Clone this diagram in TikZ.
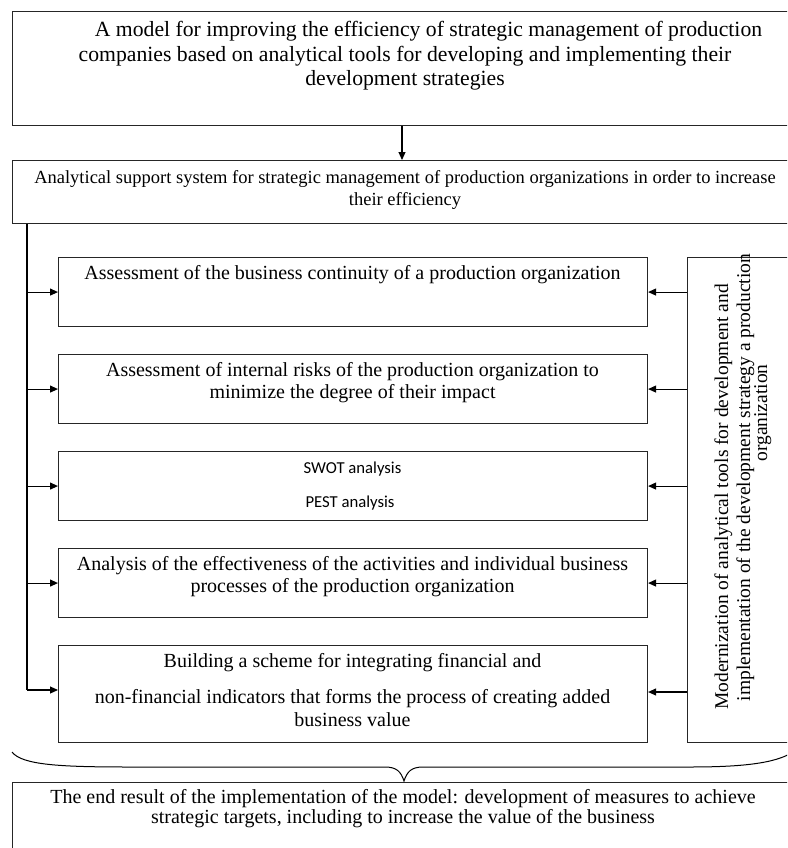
\documentclass[tikz,border=0pt]{standalone}
\usepackage{fontspec}
\setmainfont{Liberation Serif}
\newfontfamily\calib{Carlito}
\usetikzlibrary{arrows.meta}
\begin{document}
\begin{tikzpicture}[x=1pt,y=-1pt,
  box/.style={draw=black!85, line width=1.1pt, inner sep=0pt, anchor=north west},
  wire/.style={line width=1.1pt, draw=black},
  conn/.style={wire, -{Triangle[length=8pt,width=7pt]}},
  txt/.style={font=\fontsize{20}{21.5}\selectfont, align=center, anchor=base, inner sep=0pt},
  vtxt/.style={font=\fontsize{19.5}{22}\selectfont, anchor=base, inner sep=0pt, rotate=90},
]
\useasboundingbox (0,0) rectangle (787,848);
\fill[white] (0,0) rectangle (787,848);
\clip (0,0) rectangle (787,848);

% top box
\node[box, minimum width=786pt, minimum height=114pt] (top) at (12,11) {};
\node[txt, font=\fontsize{21.7}{24.6}\selectfont] (toptxt) at (405,86)
  {\hspace*{47pt}A model for improving the efficiency of strategic management of production\\
   companies based on analytical tools for developing and implementing their\\
   development strategies};

% system box
\node[box, minimum width=786pt, minimum height=63pt] (sys) at (12,160) {};
\node[txt, font=\fontsize{18.5}{21.5}\selectfont] (systxt) at (405,205)
  {Analytical support system for strategic management of production organizations in order to increase\\
   their efficiency};

\coordinate (ax) at (402,0);
\draw[conn] (top.south -| ax) -- (sys.north -| ax);

% inner boxes
\node[box, minimum width=589pt, minimum height=69pt] (b1) at (58,257) {};
\node[box, minimum width=589pt, minimum height=69pt] (b2) at (58,354) {};
\node[box, minimum width=589pt, minimum height=69pt] (b3) at (58,451) {};
\node[box, minimum width=589pt, minimum height=69pt] (b4) at (58,548) {};
\node[box, minimum width=589pt, minimum height=97pt] (b5) at (58,645) {};

\node[txt] (t1) at (352.5,279) {Assessment of the business continuity of a production organization};
\node[txt] (t2) at (352.5,398) {Assessment of internal risks of the production organization to\\
  minimize the degree of their impact};
\node[txt, font=\calib\fontsize{16.7}{20}\selectfont] (t3a) at (352.5,473) {SWOT analysis};
\node[txt, font=\calib\fontsize{16.7}{20}\selectfont] (t3b) at (350,507) {PEST analysis};
\node[txt] (t4) at (352.5,592) {Analysis of the effectiveness of the activities and individual business\\
  processes of the production organization};
\node[txt, font=\fontsize{20}{23}\selectfont] (t5) at (352.5,726) {Building a scheme for integrating financial and\\[13pt]
  non-financial indicators that forms the process of creating added\\
  business value};

% right box
\node[box, minimum width=120pt, minimum height=485pt] (mod) at (687,257) {};
\node[vtxt] (m1) at (728,497) {Modernization of analytical tools for development and};
\node[vtxt] (m2) at (750,477.5) {implementation of the development strategy a production};
\node[vtxt] (m3) at (767,413) {organization};

% left spine
\coordinate (lx) at (27,0);
\coordinate (l5) at (0,690);
\draw[wire] (sys.south -| lx) -- (lx |- l5);
\draw[conn] (lx |- b1.west) -- (b1.west);
\draw[conn] (lx |- b2.west) -- (b2.west);
\draw[conn] (lx |- b3.west) -- (b3.west);
\draw[conn] (lx |- b4.west) -- (b4.west);
\draw[conn] (lx |- l5) -- (b5.west |- l5);

% right arrows
\coordinate (r5) at (0,692);
\draw[conn] (mod.west |- b1.east) -- (b1.east);
\draw[conn] (mod.west |- b2.east) -- (b2.east);
\draw[conn] (mod.west |- b3.east) -- (b3.east);
\draw[conn] (mod.west |- b4.east) -- (b4.east);
\draw[conn] (mod.west |- r5) -- (b5.east |- r5);

% bottom box
\node[box, minimum width=786pt, minimum height=100pt] (res) at (12,782) {};
\node[txt, font=\fontsize{20}{19.5}\selectfont] (restxt) at (403,823)
  {The end result of the implementation of the model: development of measures to achieve\\
   strategic targets, including to increase the value of the business};

% brace
\coordinate (bl) at (12,752);
\coordinate (bt) at (404,781);
\coordinate (br) at (796,750);
\draw[wire, line width=1pt] (bl) .. controls (22,765) and (60,767) .. (130,767)
  -- (385,767) .. controls (397,767) and (401,772) .. (bt)
  .. controls (407,772) and (411,767) .. (423,767)
  -- (690,767) .. controls (750,767) and (780,762) .. (br);
\end{tikzpicture}
\end{document}
